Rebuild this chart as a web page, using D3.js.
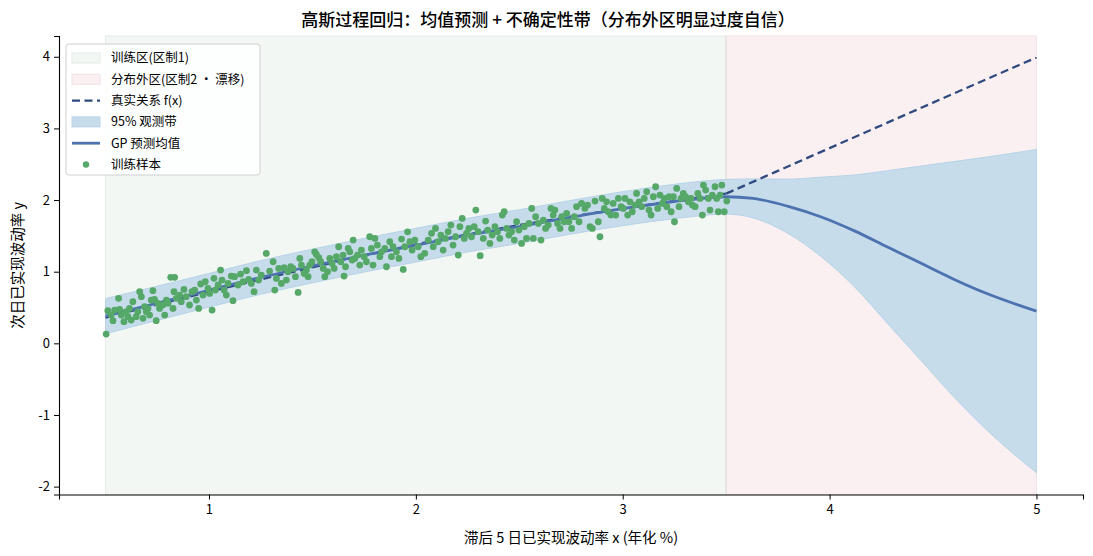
<!DOCTYPE html>
<html>
<head>
<meta charset="utf-8">
<script src="https://cdn.jsdelivr.net/npm/d3@7"></script>
<style>
	body { margin: 0; background: #fff; }
	svg text { font-family: "Noto Sans CJK SC", "Noto Sans", sans-serif; fill: #000; }
</style>
</head>
<body>
<svg id="chart"></svg>
<script>
// regions
var trainRange = [0.5, 3.5];
var driftRange = [3.5, 5.0];

// true relation f(x): smooth in regime 1, straight after the drift point
var trueTrainX = [0.5, 1.0, 1.5, 2.0, 2.5, 3.0, 3.5];
var trueTrainY = [0.36, 0.72, 1.06, 1.38, 1.65, 1.88, 2.09];
var trueDriftX = [3.5, 4.0, 4.5, 5.0];
var trueDriftY = [2.09, 2.725, 3.36, 3.99];

// GP mean and 95% half width
var predX = [0.5, 0.75, 1.0, 1.25, 1.5, 1.75, 2.0, 2.25, 2.5, 2.75, 3.0, 3.25, 3.5, 3.63, 3.8, 3.96, 4.12, 4.28, 4.44, 4.6, 4.76, 5.0];
var predMean = [0.38, 0.56, 0.74, 0.92, 1.08, 1.23, 1.37, 1.51, 1.63, 1.76, 1.88, 1.98, 2.046, 2.023, 1.912, 1.764, 1.57, 1.344, 1.12, 0.896, 0.695, 0.45];
var predHalf = [0.245, 0.238, 0.235, 0.235, 0.235, 0.235, 0.235, 0.235, 0.235, 0.235, 0.237, 0.24, 0.242, 0.272, 0.38, 0.556, 0.78, 1.066, 1.354, 1.641, 1.905, 2.257];

// training samples
var sampleX = [0.503, 0.511, 0.527, 0.536, 0.544, 0.563, 0.568, 0.576, 0.589, 0.600, 0.608, 0.616, 0.624, 0.632, 0.648, 0.656, 0.665, 0.673, 0.681, 0.689,
	0.697, 0.705, 0.713, 0.721, 0.729, 0.737, 0.745, 0.753, 0.761, 0.777, 0.786, 0.794, 0.802, 0.815, 0.834, 0.826, 0.831, 0.842, 0.858, 0.866,
	0.879, 0.890, 0.906, 0.918, 0.931, 0.939, 0.950, 0.960, 0.971, 0.982, 0.995, 1.003, 1.015, 1.024, 1.031, 1.044, 1.056, 1.063, 1.073, 1.084,
	1.092, 1.108, 1.116, 1.124, 1.140, 1.153, 1.165, 1.181, 1.192, 1.205, 1.218, 1.229, 1.240, 1.253,
	1.277, 1.293, 1.310, 1.318, 1.326, 1.337, 1.350, 1.363, 1.374, 1.382, 1.395, 1.406, 1.418, 1.431, 1.439, 1.447, 1.460, 1.471, 1.479, 1.487,
	1.498, 1.511, 1.519, 1.531, 1.540, 1.552, 1.560, 1.573, 1.584, 1.595, 1.605, 1.616, 1.627, 1.637, 1.648, 1.653, 1.660, 1.673, 1.681, 1.692,
	1.697, 1.705, 1.718, 1.729, 1.737, 1.750, 1.761, 1.777, 1.785, 1.793, 1.802, 1.814, 1.826, 1.834, 1.850, 1.858, 1.874, 1.882, 1.890, 1.906,
	1.918, 1.931, 1.939, 1.947, 1.960, 1.971, 1.982, 1.995, 2.011, 2.024,
	2.043, 2.060, 2.076, 2.084, 2.095, 2.108, 2.121, 2.132, 2.143, 2.156, 2.169, 2.180, 2.192, 2.205, 2.213, 2.224, 2.234, 2.245, 2.256, 2.269,
	2.282, 2.290, 2.301, 2.311, 2.326, 2.337, 2.347, 2.358, 2.369, 2.382, 2.395, 2.406, 2.418, 2.427, 2.439, 2.450, 2.463, 2.476, 2.487, 2.498,
	2.511, 2.524, 2.535, 2.547, 2.560, 2.568, 2.579, 2.592, 2.605, 2.616, 2.627, 2.640, 2.653, 2.664, 2.672, 2.685, 2.697, 2.705, 2.718, 2.729,
	2.740, 2.753, 2.766, 2.777, 2.789, 2.801,
	2.817, 2.830, 2.842, 2.853, 2.866, 2.882, 2.890, 2.901, 2.911, 2.922, 2.930, 2.943, 2.954, 2.966, 2.979, 2.992, 3.003, 3.011, 3.024, 3.035,
	3.046, 3.059, 3.067, 3.079, 3.092, 3.104, 3.116, 3.127, 3.137, 3.148, 3.159, 3.169, 3.180, 3.192, 3.201, 3.213, 3.224, 3.234, 3.245, 3.250,
	3.261, 3.272, 3.282, 3.293, 3.304, 3.317, 3.330, 3.337, 3.350, 3.363, 3.374, 3.385, 3.390, 3.401, 3.414, 3.422, 3.433, 3.446, 3.454, 3.462,
	3.471, 3.479, 3.491, 3.503];
var sampleY = [0.130, 0.455, 0.395, 0.316, 0.465, 0.628, 0.474, 0.395, 0.302, 0.442, 0.372, 0.488, 0.325, 0.581, 0.372, 0.442, 0.721, 0.651, 0.349, 0.511,
	0.442, 0.488, 0.395, 0.604, 0.735, 0.614, 0.316, 0.558, 0.488, 0.535, 0.395, 0.604, 0.558, 0.921, 0.921, 0.488, 0.721, 0.628, 0.674, 0.581,
	0.753, 0.651, 0.535, 0.721, 0.744, 0.604, 0.488, 0.828, 0.674, 0.860, 0.767, 0.697, 0.465, 0.907, 0.744, 0.814, 1.023, 0.883, 0.744, 0.674,
	0.837, 0.939, 0.595, 0.930, 0.814, 0.967, 0.860, 1.014, 0.893, 0.837, 0.721, 1.023, 0.883, 0.953,
	1.255, 1.009, 1.139, 0.743, 0.906, 1.046, 0.837, 1.055, 0.883, 0.999, 1.069, 1.046, 0.930, 0.711, 1.185, 1.092, 0.976, 1.023, 0.930, 1.092,
	1.139, 1.278, 1.241, 1.195, 1.139, 1.046, 0.930, 0.999, 1.185, 1.116, 1.046, 1.209, 1.348, 1.139, 1.232, 0.939, 1.069, 1.325, 1.278, 1.162,
	1.441, 1.185, 1.232, 1.092, 1.302, 1.209, 1.139, 1.488, 1.325, 1.092, 1.464, 1.371, 1.209, 1.278, 1.325, 1.069, 1.418, 1.209, 1.348, 1.278,
	1.185, 1.455, 1.032, 1.348, 1.557, 1.418, 1.302, 1.441, 1.348, 1.209,
	1.256, 1.442, 1.535, 1.349, 1.604, 1.418, 1.511, 1.302, 1.465, 1.558, 1.651, 1.372, 1.488, 1.232, 1.628, 1.744, 1.465, 1.535, 1.604, 1.488,
	1.628, 1.860, 1.558, 1.223, 1.465, 1.707, 1.581, 1.395, 1.511, 1.628, 1.558, 1.465, 1.790, 1.837, 1.604, 1.511, 1.558, 1.442, 1.697, 1.581,
	1.395, 1.628, 1.465, 1.674, 1.883, 1.465, 1.767, 1.674, 1.442, 1.721, 1.604, 1.651, 1.883, 1.790, 1.860, 1.674, 1.604, 1.767, 1.697, 1.814,
	1.697, 1.604, 1.767, 1.907, 1.697, 1.953,
	1.883, 1.930, 1.628, 1.604, 1.986, 1.697, 1.488, 2.023, 1.883, 1.976, 1.837, 1.790, 1.953, 1.790, 2.023, 1.907, 1.883, 2.023, 1.790, 1.976,
	1.837, 1.930, 2.093, 1.976, 1.907, 2.023, 2.116, 1.860, 1.790, 2.046, 2.186, 1.883, 2.070, 1.953, 2.023, 1.907, 2.046, 1.837, 2.046, 1.697,
	2.162, 1.907, 2.023, 2.093, 2.046, 1.976, 2.023, 1.930, 1.907, 2.093, 2.023, 1.790, 2.209, 2.139, 2.023, 1.860, 2.070, 2.186, 2.023, 1.837,
	2.070, 2.209, 1.837, 1.986];

// axis ticks
var xTicks = [1, 2, 3, 4, 5];
var yTicks = [-2, -1, 0, 1, 2, 3, 4];

var legendLabels = ["训练区(区制1)", "分布外区(区制2 · 漂移)", "真实关系 f(x)", "95% 观测带", "GP 预测均值", "训练样本"];

function drawChart() {
	var width = 1093, height = 556;
	var margin = { "top": 36, "right": 10, "bottom": 61.5, "left": 59 };
	var svg = d3.select("#chart")
		.attr("width", width)
		.attr("height", height);

	var x = d3.scaleLinear()
		.domain([0.275, 5.225])
		.range([margin.left, width - margin.right]);
	var y = d3.scaleLinear()
		.domain([-2.11, 4.29])
		.range([height - margin.bottom, margin.top]);

	var greenFill = "#f2f7f3", pinkFill = "#faf0f2";
	var bandFill = "#c7dcea", bandEdge = "#b6d3e7";
	var meanColor = "#4c72b0", trueColor = "#2f4a7e", dotColor = "#55a868";

	// regime spans
	svg.append("rect")
		.attr("x", x(trainRange[0])).attr("y", margin.top)
		.attr("width", x(trainRange[1]) - x(trainRange[0]))
		.attr("height", height - margin.bottom - margin.top)
		.attr("fill", greenFill)
		.attr("stroke", "#e6ece8").attr("stroke-width", 1);
	svg.append("rect")
		.attr("x", x(driftRange[0])).attr("y", margin.top)
		.attr("width", x(driftRange[1]) - x(driftRange[0]))
		.attr("height", height - margin.bottom - margin.top)
		.attr("fill", pinkFill)
		.attr("stroke", "#efe3e6").attr("stroke-width", 1);
	svg.append("line")
		.attr("x1", x(3.5)).attr("x2", x(3.5))
		.attr("y1", margin.top).attr("y2", height - margin.bottom)
		.attr("stroke", "#e4e4e2").attr("stroke-width", 1.5);

	var pred = predX.map(function(v, i) { return { x: v, m: predMean[i], h: predHalf[i] }; });
	var band = d3.area()
		.x(function(d) { return x(d.x); })
		.y0(function(d) { return y(d.m - d.h); })
		.y1(function(d) { return y(d.m + d.h); })
		.curve(d3.curveMonotoneX);
	svg.append("path")
		.datum(pred)
		.attr("d", band)
		.attr("fill", bandFill)
		.attr("stroke", bandEdge)
		.attr("stroke-width", 1);

	var trueLine = d3.line()
		.x(function(d) { return x(d.x); })
		.y(function(d) { return y(d.y); })
		.curve(d3.curveMonotoneX);
	[[trueTrainX, trueTrainY], [trueDriftX, trueDriftY]].forEach(function(s) {
		svg.append("path")
			.datum(s[0].map(function(v, i) { return { x: v, y: s[1][i] }; }))
			.attr("d", trueLine)
			.attr("fill", "none")
			.attr("stroke", trueColor)
			.attr("stroke-width", 2.3)
			.attr("stroke-dasharray", "8,4.5");
	});

	var meanLine = d3.line()
		.x(function(d) { return x(d.x); })
		.y(function(d) { return y(d.m); })
		.curve(d3.curveMonotoneX);
	svg.append("path")
		.datum(pred)
		.attr("d", meanLine)
		.attr("fill", "none")
		.attr("stroke", meanColor)
		.attr("stroke-width", 2.8);

	var samples = sampleX.map(function(v, i) { return { x: v, y: sampleY[i] }; });
	svg.append("g").selectAll("circle")
		.data(samples)
		.enter()
		.append("circle")
		.attr("cx", function(d) { return x(d.x); })
		.attr("cy", function(d) { return y(d.y); })
		.attr("r", 3.4)
		.attr("fill", dotColor);

	// axes
	var xAxis = svg.append("g")
		.attr("transform", "translate(0," + (height - margin.bottom) + ")")
		.call(d3.axisBottom(x).tickValues(xTicks).tickSize(5).tickPadding(5).tickFormat(d3.format("d")));
	var yAxis = svg.append("g")
		.attr("transform", "translate(" + margin.left + ",0)")
		.call(d3.axisLeft(y).tickValues(yTicks).tickSize(5).tickPadding(4).tickFormat(function(d) { return d < 0 ? "-" + Math.abs(d) : d; }));
	[xAxis, yAxis].forEach(function(a) {
		a.selectAll("text").attr("font-size", 13).style("font-family", "'Noto Sans CJK SC', sans-serif");
		a.select(".domain").attr("stroke", "#000").attr("stroke-width", 1.1);
		a.selectAll(".tick line").attr("stroke", "#000").attr("stroke-width", 1);
	});

	svg.append("text")
		.attr("x", 548).attr("y", 26)
		.attr("text-anchor", "middle")
		.attr("font-size", 17)
		.attr("font-weight", 500)
		.text("高斯过程回归：均值预测 + 不确定性带（分布外区明显过度自信）");
	svg.append("text")
		.attr("x", (margin.left + width - margin.right) / 2).attr("y", 543)
		.attr("text-anchor", "middle")
		.attr("font-size", 14.5)
		.text("滞后 5 日已实现波动率 x (年化 %)");
	svg.append("text")
		.attr("transform", "translate(23," + ((margin.top + height - margin.bottom) / 2) + ") rotate(-90)")
		.attr("text-anchor", "middle")
		.attr("font-size", 14.5)
		.text("次日已实现波动率 y");

	// legend
	var lg = svg.append("g").attr("transform", "translate(66,44)");
	lg.append("rect")
		.attr("width", 194).attr("height", 131)
		.attr("rx", 3)
		.attr("fill", "rgba(255,255,255,0.85)")
		.attr("stroke", "#d0d0d0");
	var rowY = function(i) { return 14 + i * 21.3; };
	lg.append("rect").attr("x", 6).attr("y", rowY(0) - 5).attr("width", 28).attr("height", 10)
		.attr("fill", greenFill).attr("stroke", "#e3ebe5");
	lg.append("rect").attr("x", 6).attr("y", rowY(1) - 5).attr("width", 28).attr("height", 10)
		.attr("fill", pinkFill).attr("stroke", "#f0e0e4");
	lg.append("line").attr("x1", 6).attr("x2", 34).attr("y1", rowY(2)).attr("y2", rowY(2))
		.attr("stroke", trueColor).attr("stroke-width", 2.3).attr("stroke-dasharray", "8,4.5");
	lg.append("rect").attr("x", 6).attr("y", rowY(3) - 5).attr("width", 28).attr("height", 10)
		.attr("fill", bandFill).attr("stroke", bandEdge);
	lg.append("line").attr("x1", 6).attr("x2", 34).attr("y1", rowY(4)).attr("y2", rowY(4))
		.attr("stroke", meanColor).attr("stroke-width", 2.8);
	lg.append("circle").attr("cx", 20).attr("cy", rowY(5)).attr("r", 3.2).attr("fill", dotColor);
	lg.selectAll("text.lbl")
		.data(legendLabels)
		.enter()
		.append("text")
		.attr("class", "lbl")
		.attr("x", 45)
		.attr("y", function(d, i) { return rowY(i); })
		.attr("dy", "0.35em")
		.attr("font-size", 12.5)
		.text(function(d) { return d; });
}

drawChart();
</script>
</body>
</html>
